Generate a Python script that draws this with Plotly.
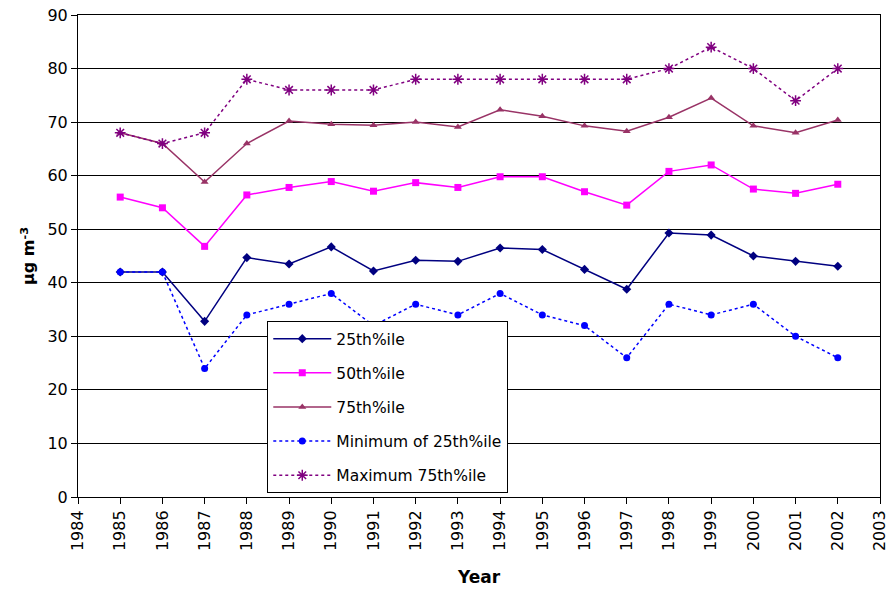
import plotly.graph_objects as go

years = list(range(1985, 2003))
p25 = [42, 42, 32.8, 44.7, 43.5, 46.7, 42.2, 44.2, 44.0, 46.5, 46.2, 42.5, 38.8, 49.3, 48.9, 45.0, 44.0, 43.1]
p50 = [56, 54, 46.8, 56.4, 57.8, 58.9, 57.1, 58.7, 57.8, 59.8, 59.8, 57.0, 54.5, 60.8, 62.0, 57.5, 56.7, 58.4]
p75 = [68, 66, 58.8, 66, 70.2, 69.6, 69.4, 70.0, 69.1, 72.3, 71.1, 69.3, 68.3, 70.9, 74.5, 69.3, 68.0, 70.4]
min25 = [42, 42, 24, 34, 36, 38, 32, 36, 34, 38, 34, 32, 26, 36, 34, 36, 30, 26]
max75 = [68, 66, 68, 78, 76, 76, 76, 78, 78, 78, 78, 78, 78, 80, 84, 80, 74, 80]

fig = go.Figure()
series = [
    ("25th%ile", p25, "#000080", "diamond", "solid", 7),
    ("50th%ile", p50, "#FF00FF", "square", "solid", 7),
    ("75th%ile", p75, "#993366", "triangle-up", "solid", 7),
    ("Minimum of 25th%ile", min25, "#0000FF", "circle", "dot", 7),
    ("Maximum 75th%ile", max75, "#800080", "asterisk-open", "dot", 9),
]
for i, (name, vals, col, sym, dash, ms) in enumerate(series):
    marker = dict(symbol=sym, size=ms, color=col)
    if sym == "asterisk-open":
        marker["line"] = dict(color=col, width=1.5)
    fig.add_trace(go.Scatter(
        x=years, y=vals, name=name, mode="lines+markers",
        line=dict(color=col, width=1.5, dash=dash),
        marker=marker, legendgroup=str(i), cliponaxis=False,
    ))

fig.update_layout(
    width=891, height=592,
    paper_bgcolor="white", plot_bgcolor="white",
    margin=dict(l=78, r=11, t=15, b=95),
    font=dict(family="DejaVu Sans", size=16, color="black"),
    showlegend=True,
    legend=dict(
        x=0.236, y=0.365, xanchor="left", yanchor="top",
        bgcolor="white", bordercolor="black", borderwidth=1,
        font=dict(size=15.5), tracegroupgap=11, itemwidth=58,
    ),
    xaxis=dict(
        range=[1984, 2003], dtick=1, tick0=1984, tickangle=-90,
        ticks="outside", ticklen=6, tickcolor="black", automargin=False,
        showline=True, linecolor="black", linewidth=1, mirror=True,
        showgrid=False, zeroline=False, ticklabeloverflow="allow",
        title=dict(text="<b>Year</b>", font=dict(size=17), standoff=20),
    ),
    yaxis=dict(
        range=[0, 90], dtick=10, ticks="outside", ticklen=6, tickcolor="black", automargin=False,
        showline=True, linecolor="black", linewidth=1, mirror=True,
        showgrid=True, gridcolor="black", gridwidth=1, zeroline=False,
        ticklabeloverflow="allow",
        title=dict(text="<b>µg m<sup>-3</sup></b>", font=dict(size=16), standoff=8),
    ),
)
fig.write_html("out.html", config={"displayModeBar": False},
               post_script="document.body.style.margin='0';")
